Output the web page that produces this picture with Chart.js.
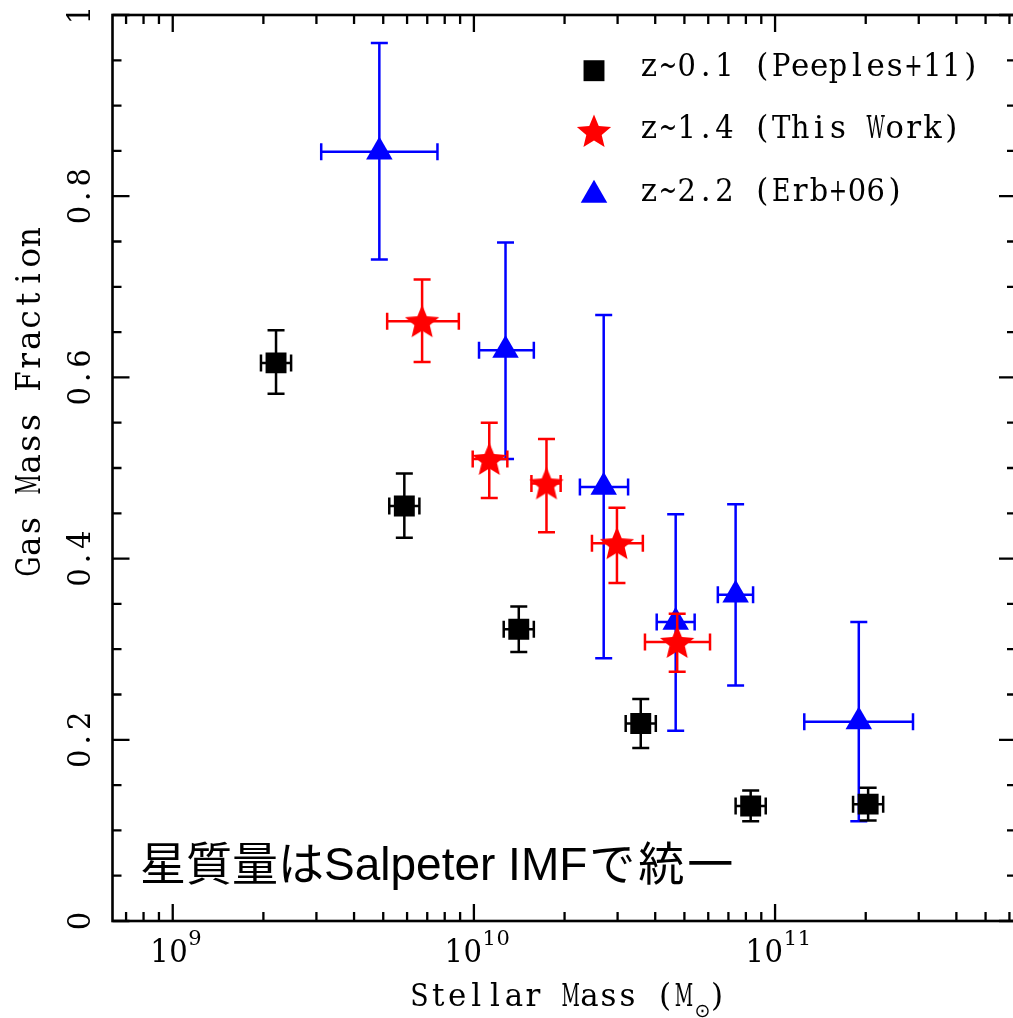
<!DOCTYPE html>
<html><head><meta charset="utf-8">
<script src="https://cdn.jsdelivr.net/npm/chart.js@4.4.1/dist/chart.umd.min.js"></script>
<style>
html,body{margin:0;padding:0;background:#fff;overflow:hidden;}
#wrap{position:relative;width:1020px;height:1018px;}
#c{display:block;width:1020px;height:1018px;}
</style></head><body>
<div id="wrap"><canvas id="c" width="1020" height="1018"></canvas></div>
<script>
// ---------- data ----------
const seriesLabels = ['z~0.1 (Peeples+11)', 'z~1.4 (This Work)', 'z~2.2 (Erb+06)'];

// z~0.1 (Peeples+11): log stellar mass, gas fraction, errors
const peeplesLogM   = [9.343, 9.769, 10.149, 10.554, 10.919, 11.309];
const peeplesLogMLo = [9.293, 9.719, 10.099, 10.504, 10.869, 11.259];
const peeplesLogMHi = [9.393, 9.819, 10.199, 10.604, 10.969, 11.359];
const peeplesFgas   = [0.616, 0.458, 0.322, 0.218, 0.127, 0.129];
const peeplesFgasLo = [0.582, 0.423, 0.297, 0.191, 0.110, 0.111];
const peeplesFgasHi = [0.652, 0.494, 0.347, 0.245, 0.144, 0.147];

// z~1.4 (This Work)
const thisLogM   = [9.828, 10.051, 10.241, 10.475, 10.675];
const thisLogMLo = [9.712, 9.996, 10.191, 10.392, 10.568];
const thisLogMHi = [9.950, 10.111, 10.288, 10.561, 10.784];
const thisFgas   = [0.662, 0.510, 0.483, 0.417, 0.308];
const thisFgasLo = [0.617, 0.467, 0.429, 0.373, 0.275];
const thisFgasHi = [0.708, 0.550, 0.532, 0.456, 0.339];

// z~2.2 (Erb+06)
const erbLogM   = [9.686, 10.105, 10.431, 10.670, 10.869, 11.278];
const erbLogMLo = [9.493, 10.017, 10.352, 10.607, 10.810, 11.097];
const erbLogMHi = [9.879, 10.199, 10.512, 10.733, 10.927, 11.458];
const erbFgas   = [0.849, 0.630, 0.479, 0.330, 0.360, 0.220];
const erbFgasLo = [0.730, 0.510, 0.290, 0.210, 0.260, 0.110];
const erbFgasHi = [0.969, 0.749, 0.669, 0.449, 0.460, 0.330];

// axes
const xMinLog = 8.8, xMaxLog = 11.8;
const xTickValues = [1e9, 1e10, 1e11];
const xTickBase = '10';
const xTickExps = ['9', '10', '11'];
const yTickValues = [0, 0.2, 0.4, 0.6, 0.8, 1];
const yTickLabels = ['0', '0.2', '0.4', '0.6', '0.8', '1'];
const xTitleMain = 'Stellar Mass (M';
const xTitleSub = '\u2299';
const xTitleEnd = ')';
const yTitle = 'Gas Mass Fraction';
const noteMain = '星質量はSalpeter IMF';
const noteEnd = 'で統一';

// ---------- build ----------
const P = v => Math.pow(10, v);
function pts(lm, f) { return lm.map((v, i) => ({x: P(v), y: f[i]})); }

function makeStar(size, color) {
  const c = document.createElement('canvas');
  c.width = size; c.height = size;
  const g = c.getContext('2d');
  const cx = size / 2, cy = size / 2 + 1.5, R = size / 2 - 2, r = R * 0.45;
  g.beginPath();
  for (let k = 0; k < 10; k++) {
    const a = -Math.PI / 2 + k * Math.PI / 5;
    const rr = k % 2 === 0 ? R : r;
    const px = cx + rr * Math.cos(a), py = cy + rr * Math.sin(a);
    if (k === 0) g.moveTo(px, py); else g.lineTo(px, py);
  }
  g.closePath();
  g.fillStyle = color; g.fill();
  return c;
}
const starImg = makeStar(40, '#ff0000');

const errs = [
  {lo: peeplesLogMLo, hi: peeplesLogMHi, ylo: peeplesFgasLo, yhi: peeplesFgasHi},
  {lo: thisLogMLo, hi: thisLogMHi, ylo: thisFgasLo, yhi: thisFgasHi},
  {lo: erbLogMLo, hi: erbLogMHi, ylo: erbFgasLo, yhi: erbFgasHi}
];

const SERIF = "'DejaVu Serif', 'Liberation Serif', serif";

// draw text as fixed-pitch cells (typewriter look); x = left edge of first cell
function monoText(ctx, text, x, y, pitch) {
  const chars = Array.from(text);
  ctx.save();
  ctx.textAlign = 'center';
  chars.forEach((ch, i) => {
    if (ch === ' ') return;
    ctx.fillText(ch, x + (i + 0.5) * pitch, y, pitch - 0.5);
  });
  ctx.restore();
  return chars.length * pitch;
}

const errorBarPlugin = {
  id: 'errbars',
  beforeDatasetDraw(chart, args) {
    const i = args.index;
    const ds = chart.data.datasets[i];
    const e = errs[i];
    const xs = chart.scales.x, ys = chart.scales.y;
    const ctx = chart.ctx;
    ctx.save();
    ctx.strokeStyle = ds.backgroundColor;
    ctx.lineWidth = 2.5;
    ctx.lineCap = 'butt';
    const cap = 8.5;
    ds.data.forEach((p, k) => {
      const px = xs.getPixelForValue(p.x), py = ys.getPixelForValue(p.y);
      const x0 = xs.getPixelForValue(P(e.lo[k])), x1 = xs.getPixelForValue(P(e.hi[k]));
      const y0 = ys.getPixelForValue(e.ylo[k]), y1 = ys.getPixelForValue(e.yhi[k]);
      ctx.beginPath();
      ctx.moveTo(px, y0); ctx.lineTo(px, y1);
      ctx.moveTo(px - cap, y0); ctx.lineTo(px + cap, y0);
      ctx.moveTo(px - cap, y1); ctx.lineTo(px + cap, y1);
      ctx.moveTo(x0, py); ctx.lineTo(x1, py);
      ctx.moveTo(x0, py - cap); ctx.lineTo(x0, py + cap);
      ctx.moveTo(x1, py - cap); ctx.lineTo(x1, py + cap);
      ctx.stroke();
    });
    ctx.restore();
  }
};

const framePlugin = {
  id: 'frame',
  afterDraw(chart) {
    const ctx = chart.ctx;
    const a = chart.chartArea;
    const xs = chart.scales.x, ys = chart.scales.y;
    ctx.save();
    ctx.strokeStyle = '#000';
    ctx.fillStyle = '#000';
    ctx.lineWidth = 2.6;
    ctx.strokeRect(a.left, a.top, a.right - a.left, a.bottom - a.top);
    // ticks
    ctx.lineWidth = 2.3;
    ctx.beginPath();
    for (let d = 8; d <= 11; d++) {
      for (let m = 1; m <= 9; m++) {
        const v = m * Math.pow(10, d);
        if (v < xs.min || v > xs.max) continue;
        const px = xs.getPixelForValue(v);
        const len = m === 1 ? 17 : 9;
        ctx.moveTo(px, a.bottom); ctx.lineTo(px, a.bottom - len);
        ctx.moveTo(px, a.top); ctx.lineTo(px, a.top + len);
      }
    }
    for (let k = 0; k <= 20; k++) {
      const py = ys.getPixelForValue(k * 0.05);
      const len = k % 4 === 0 ? 17 : 9;
      ctx.moveTo(a.left, py); ctx.lineTo(a.left + len, py);
      ctx.moveTo(a.right, py); ctx.lineTo(a.right - len, py);
    }
    ctx.stroke();

    ctx.textBaseline = 'alphabetic';
    // x tick labels: 10 with superscript exponent
    const basePitch = 19, expPitch = 14;
    xTickValues.forEach((v, i) => {
      const px = xs.getPixelForValue(v);
      const total = xTickBase.length * basePitch + xTickExps[i].length * expPitch;
      const x0 = px - total / 2 + 3.3;
      ctx.font = '31px ' + SERIF;
      monoText(ctx, xTickBase, x0, 962, basePitch);
      ctx.font = '21px ' + SERIF;
      monoText(ctx, xTickExps[i], x0 + xTickBase.length * basePitch, 945, expPitch);
    });
    // y tick labels (rotated)
    ctx.font = '31px ' + SERIF;
    const yPitch = 18.9;
    yTickValues.forEach((v, i) => {
      const py = ys.getPixelForValue(v);
      ctx.save();
      ctx.translate(90, py);
      ctx.rotate(-Math.PI / 2);
      monoText(ctx, yTickLabels[i], -yTickLabels[i].length * yPitch / 2, 0, yPitch);
      ctx.restore();
    });
    // y title
    ctx.save();
    ctx.font = '33px ' + SERIF;
    ctx.translate(40, 402);
    ctx.rotate(-Math.PI / 2);
    monoText(ctx, yTitle, -yTitle.length * 20.6 / 2, 0, 20.6);
    ctx.restore();
    // x title
    ctx.font = '31px ' + SERIF;
    const tp = 18.9;
    const tx = 410;
    const w1 = monoText(ctx, xTitleMain, tx, 1006, tp);
    ctx.font = "19px 'DejaVu Sans', sans-serif";
    ctx.textAlign = 'left';
    ctx.fillText(xTitleSub, tx + w1 + 1, 1017);
    ctx.font = '31px ' + SERIF;
    monoText(ctx, xTitleEnd, tx + w1 + 14, 1006, tp);

    // note
    ctx.textAlign = 'left';
    ctx.font = "46px 'Liberation Sans', 'Noto Sans CJK JP', sans-serif";
    const wn = ctx.measureText(noteMain).width;
    ctx.fillText(noteMain, 140, 880);
    ctx.font = "46px 'Noto Sans CJK JP', sans-serif";
    ctx.letterSpacing = '3px';
    ctx.fillText(noteEnd, 140 + wn + 2, 880);
    ctx.letterSpacing = '0px';

    // legend
    const rows = [70.7, 131, 195];
    const baselines = [76, 138, 201];
    chart.data.datasets.forEach((ds, i) => {
      ctx.fillStyle = ds.backgroundColor;
      Chart.helpers.drawPoint(ctx, {pointStyle: ds.pointStyle, rotation: 0, radius: ds.pointRadius, borderWidth: 0}, 594, rows[i]);
      ctx.fillStyle = '#000';
      ctx.font = '31px ' + SERIF;
      monoText(ctx, ds.label, 639.5, baselines[i], 18.9);
    });
    ctx.restore();
  }
};

const chart = new Chart(document.getElementById('c'), {
  type: 'scatter',
  data: {
    datasets: [
      {label: seriesLabels[0], data: pts(peeplesLogM, peeplesFgas), pointStyle: 'rect', pointRadius: 14.8, pointHoverRadius: 14.8,
       backgroundColor: '#000000', borderWidth: 0, pointBorderWidth: 0},
      {label: seriesLabels[1], data: pts(thisLogM, thisFgas), pointStyle: starImg, pointRadius: 18, pointHoverRadius: 18,
       backgroundColor: '#ff0000', borderWidth: 0, pointBorderWidth: 0},
      {label: seriesLabels[2], data: pts(erbLogM, erbFgas), pointStyle: 'triangle', pointRadius: 15.3, pointHoverRadius: 15.3,
       backgroundColor: '#0000ff', borderWidth: 0, pointBorderWidth: 0}
    ]
  },
  options: {
    responsive: false,
    animation: false,
    devicePixelRatio: 1,
    events: [],
    layout: {autoPadding: false, padding: {left: 0, right: 4, top: 15, bottom: 0}},
    plugins: {legend: {display: false}, tooltip: {enabled: false}},
    scales: {
      x: {type: 'logarithmic', min: P(xMinLog), max: P(xMaxLog),
          grid: {display: false}, border: {display: false}, ticks: {display: false},
          afterFit(s) { s.height = 97; }},
      y: {type: 'linear', min: 0, max: 1,
          grid: {display: false}, border: {display: false}, ticks: {display: false},
          afterFit(s) { s.width = 112.5; }}
    }
  },
  plugins: [errorBarPlugin, framePlugin]
});
</script>
</body></html>
